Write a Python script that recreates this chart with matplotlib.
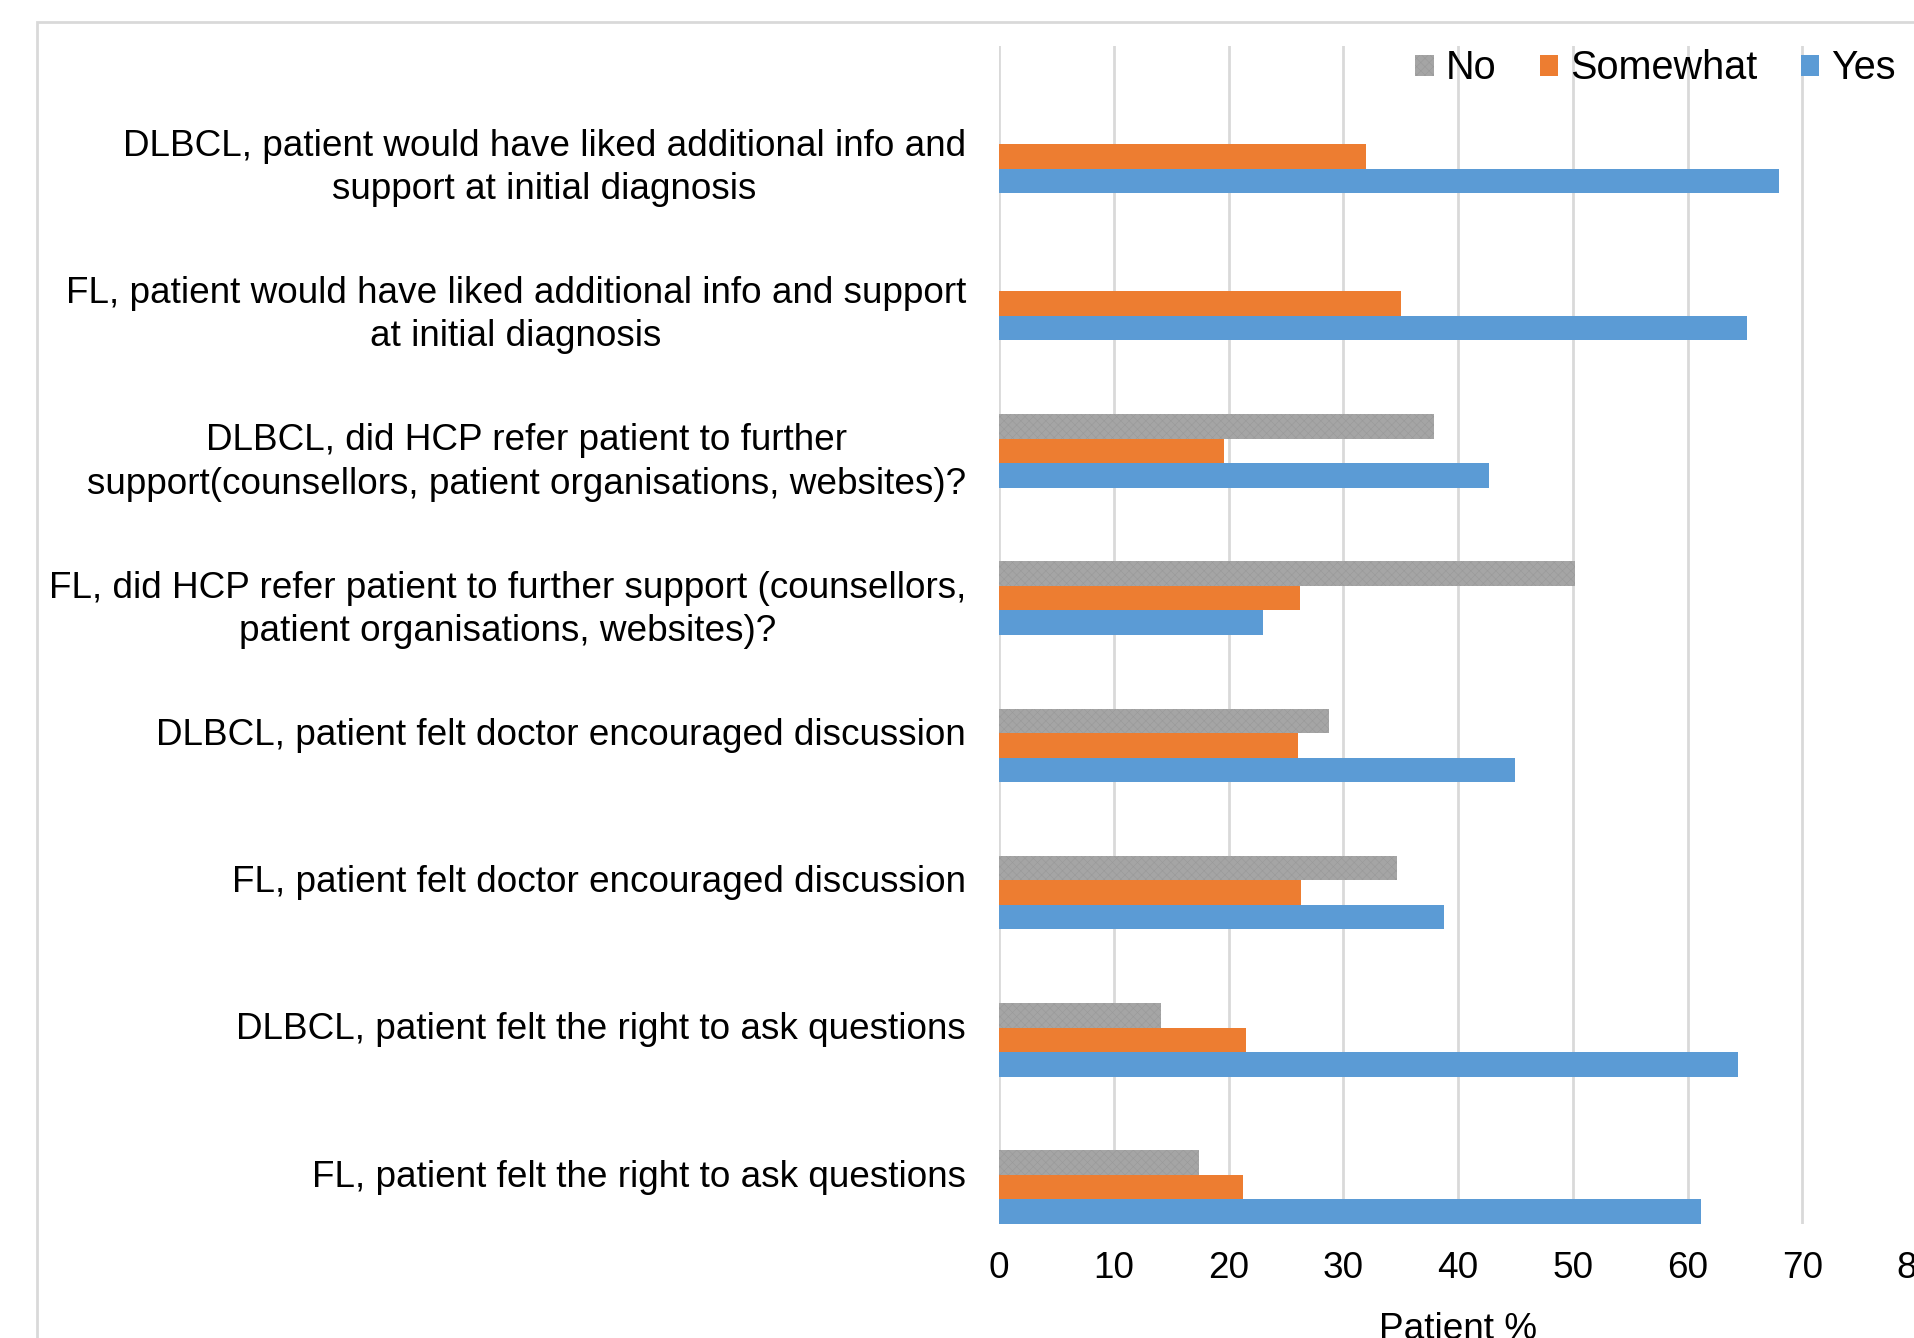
import matplotlib
matplotlib.use("Agg")
import matplotlib.pyplot as plt
import matplotlib.patches as mpatches
import matplotlib.transforms as mtransforms
import numpy as np

plt.rcParams['font.family'] = ['Liberation Sans', 'DejaVu Sans']
plt.rcParams['hatch.linewidth'] = 0.4

# questions, top to bottom
labels = [
    "DLBCL, patient would have liked additional info and\nsupport at initial diagnosis",
    "FL, patient would have liked additional info and support\nat initial diagnosis",
    "DLBCL, did HCP refer patient to further\nsupport(counsellors, patient organisations, websites)?",
    "FL, did HCP refer patient to further support (counsellors,\npatient organisations, websites)?",
    "DLBCL, patient felt doctor encouraged discussion",
    "FL, patient felt doctor encouraged discussion",
    "DLBCL, patient felt the right to ask questions",
    "FL, patient felt the right to ask questions",
]
no_vals = [0, 0, 37.9, 50.2, 28.8, 34.7, 14.1, 17.4]
somewhat_vals = [32.0, 35.0, 19.6, 26.2, 26.1, 26.3, 21.5, 21.3]
yes_vals = [68.0, 65.2, 42.7, 23.0, 45.0, 38.8, 64.4, 61.2]
xticks = [0, 10, 20, 30, 40, 50, 60, 70, 80]

c_no = '#a5a5a5'
c_some = '#ed7d31'
c_yes = '#5b9bd5'

fig = plt.figure(figsize=(19.14, 13.38), dpi=100)
ax = fig.add_axes([999/1914, 1 - 1224/1338, (1917-999)/1914, (1224-46)/1338])

# outer chart frame
top = 1 - 22/1338
fig.patches.append(mpatches.Rectangle((37/1914, -0.2), 1.2, top + 0.2,
                                      transform=fig.transFigure, fill=False,
                                      edgecolor='#d9d9d9', linewidth=2.0, zorder=0))

y = np.arange(len(labels))
h = 0.1665
ax.barh(y - h, no_vals, height=h, color=c_no, label='No', edgecolor='#999999',
        hatch='xxxx', linewidth=0, zorder=3)
ax.barh(y, somewhat_vals, height=h, color=c_some, label='Somewhat', zorder=3)
ax.barh(y + h, yes_vals, height=h, color=c_yes, label='Yes', zorder=3)

ax.set_ylim(7 + 1.5*h, -0.75)
ax.set_xlim(0, 80)
ax.set_xticks(xticks)
ax.set_yticks([])

# category labels: first line sits a bit above the group centre
lab_tr = mtransforms.blended_transform_factory(ax.transAxes, ax.transData) + \
    mtransforms.ScaledTranslation(-0.33, 0.275, fig.dpi_scale_trans)
for yi, lab in zip(y, labels):
    ax.text(0, yi, lab, transform=lab_tr, ha='right', va='top',
            multialignment='center', fontsize=26.6, linespacing=1.3)

ax.tick_params(axis='x', length=0, pad=19.6, labelsize=26.6)
ax.grid(axis='x', color='#d9d9d9', linewidth=2, zorder=0)
ax.set_axisbelow(True)
for s in ax.spines.values():
    s.set_visible(False)
ax.set_xlabel('Patient %', fontsize=26.6, labelpad=18.4)

ax.legend(loc='upper right', bbox_to_anchor=(1911/1914, 1 - 33.5/1338),
          bbox_transform=fig.transFigure, ncol=3, frameon=False, fontsize=28.5,
          handlelength=0.46, handleheight=0.43, handletextpad=0.3,
          columnspacing=1.1, borderaxespad=0)

fig.savefig('out.png', dpi=100)
